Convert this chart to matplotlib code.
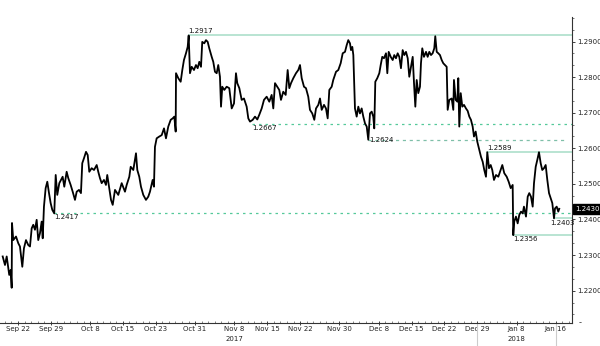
import numpy as np
import matplotlib
matplotlib.use("Agg")
import matplotlib.pyplot as plt
from matplotlib.ticker import FixedLocator, MultipleLocator, FormatStrFormatter
import matplotlib.transforms as mtransforms

# business-day offsets from 2017-09-22 (fractional = intraday)
t = [-2.33, -1.98, -1.72, -1.33, -1.11, -0.96, -0.91, -0.72, -0.30, 0.05,
     0.30, 0.66, 0.91, 1.22, 1.57, 1.83, 2.09, 2.33, 2.59, 2.85,
     3.09, 3.35, 3.61, 3.77, 3.96, 4.22, 4.47, 4.73, 4.98, 5.23,
     5.53, 5.75, 5.99, 6.30, 6.56, 6.81, 7.06, 7.42, 7.67, 8.03,
     8.34, 8.69, 8.95, 9.30, 9.60, 9.80, 10.06, 10.37, 10.63, 10.87,
     11.23, 11.59, 12.00, 12.24, 12.50, 12.76, 13.11, 13.41, 13.61, 13.92,
     14.18, 14.44, 14.79, 15.29, 15.81, 16.31, 16.57, 16.97, 17.18, 17.58,
     17.99, 18.19, 18.49, 18.75, 19.10, 19.51, 19.86, 20.12, 20.53, 20.73,
     20.88, 21.14, 21.54, 21.91, 22.26, 22.56, 22.91, 23.28, 23.58, 23.83,
     24.04, 24.09, 24.44, 24.80, 25.05, 25.30, 25.61, 25.87, 26.02, 26.22,
     26.48, 26.83, 27.13, 27.39, 27.64, 27.90, 28.09, 28.40, 28.66, 28.92,
     29.16, 29.53, 29.77, 30.03, 30.29, 30.53, 30.79, 30.95, 31.14, 31.45,
     31.81, 32.21, 32.58, 32.93, 33.23, 33.43, 33.74, 34.10, 34.45, 34.86,
     35.11, 35.37, 35.78, 36.13, 36.48, 36.78, 37.15, 37.50, 37.91, 38.31,
     38.67, 38.92, 39.18, 39.53, 39.83, 40.09, 40.44, 40.81, 41.11, 41.36,
     41.62, 41.97, 42.38, 42.73, 42.99, 43.25, 43.60, 43.90, 44.25, 44.51,
     44.86, 45.17, 45.43, 45.78, 46.04, 46.30, 46.65, 46.95, 47.21, 47.46,
     47.82, 48.06, 48.48, 48.83, 49.19, 49.50, 49.85, 50.11, 50.35, 50.61,
     50.76, 50.96, 51.12, 51.37, 51.63, 51.88, 52.13, 52.39, 52.64, 52.90,
     53.16, 53.40, 53.66, 53.92, 54.16, 54.31, 54.47, 54.77, 55.08, 55.29,
     55.53, 55.79, 56.10, 56.30, 56.51, 56.82, 57.12, 57.36, 57.62, 57.88,
     58.13, 58.38, 58.64, 58.89, 59.15, 59.41, 59.65, 59.91, 60.17, 60.37,
     60.57, 60.78, 61.02, 61.28, 61.43, 61.63, 61.89, 62.20, 62.45, 62.70,
     62.96, 63.21, 63.46, 63.61, 63.83, 64.07, 64.33, 64.59, 64.83, 65.09,
     65.35, 65.50, 65.75, 66.11, 66.36, 66.46, 66.72, 66.97, 67.12, 67.27,
     67.49, 67.73, 67.99, 68.29, 68.55, 68.80, 69.05, 69.31, 69.51, 69.77,
     70.01, 70.32, 70.58, 70.84, 71.08, 71.34, 71.54, 71.80, 72.06, 72.30,
     72.56, 72.87, 73.22, 73.48, 73.83, 74.13, 74.50, 74.80, 75.11, 75.41,
     75.50, 75.65, 75.91, 76.17, 76.42, 76.68, 76.94, 77.13, 77.44, 77.70,
     77.94, 78.20, 78.46, 78.66, 78.92, 79.16, 79.42, 79.68, 79.92, 80.18,
     80.44, 80.69, 80.95, 81.20, 81.45, 81.71, 81.86, 82.12, 82.36, 82.51]

price = [1.2296, 1.2272, 1.2296, 1.2244, 1.2258, 1.2208, 1.2390, 1.2342, 1.2352, 1.2333,
         1.2324, 1.2267, 1.2319, 1.2342, 1.2328, 1.2324, 1.2375, 1.2385, 1.2371, 1.2399,
         1.2342, 1.2361, 1.2394, 1.2347, 1.2436, 1.2488, 1.2506, 1.2474, 1.2446, 1.2427,
         1.2417, 1.2525, 1.2469, 1.2502, 1.2511, 1.2520, 1.2492, 1.2534, 1.2516, 1.2497,
         1.2478, 1.2455, 1.2478, 1.2483, 1.2474, 1.2558, 1.2572, 1.2590, 1.2581, 1.2534,
         1.2544, 1.2539, 1.2553, 1.2534, 1.2516, 1.2502, 1.2511, 1.2497, 1.2525, 1.2488,
         1.2455, 1.2441, 1.2483, 1.2469, 1.2502, 1.2478, 1.2497, 1.2520, 1.2548, 1.2539,
         1.2586, 1.2539, 1.2520, 1.2492, 1.2469, 1.2455, 1.2464, 1.2478, 1.2511, 1.2492,
         1.2604, 1.2628, 1.2633, 1.2637, 1.2656, 1.2628, 1.2661, 1.2680, 1.2684, 1.2689,
         1.2647, 1.2811, 1.2797, 1.2787, 1.2820, 1.2848, 1.2867, 1.2885, 1.2917, 1.2811,
         1.2829, 1.2820, 1.2834, 1.2825, 1.2843, 1.2829, 1.2899, 1.2895, 1.2904, 1.2899,
         1.2881, 1.2857, 1.2843, 1.2815, 1.2811, 1.2834, 1.2801, 1.2717, 1.2773, 1.2764,
         1.2773, 1.2769, 1.2712, 1.2726, 1.2811, 1.2783, 1.2769, 1.2736, 1.2740, 1.2717,
         1.2684, 1.2675, 1.2680, 1.2689, 1.2681, 1.2694, 1.2712, 1.2736, 1.2745, 1.2731,
         1.2750, 1.2712, 1.2783, 1.2773, 1.2764, 1.2736, 1.2759, 1.2750, 1.2820, 1.2769,
         1.2783, 1.2797, 1.2811, 1.2820, 1.2834, 1.2797, 1.2773, 1.2769, 1.2745, 1.2708,
         1.2698, 1.2680, 1.2712, 1.2722, 1.2740, 1.2708, 1.2722, 1.2712, 1.2684, 1.2764,
         1.2773, 1.2792, 1.2815, 1.2820, 1.2839, 1.2867, 1.2871, 1.2890, 1.2904, 1.2895,
         1.2876, 1.2885, 1.2862, 1.2712, 1.2689, 1.2717, 1.2698, 1.2712, 1.2689, 1.2670,
         1.2661, 1.2624, 1.2698, 1.2703, 1.2689, 1.2656, 1.2787, 1.2797, 1.2811, 1.2834,
         1.2857, 1.2853, 1.2867, 1.2811, 1.2871, 1.2857, 1.2848, 1.2862, 1.2853, 1.2867,
         1.2857, 1.2825, 1.2876, 1.2862, 1.2871, 1.2853, 1.2801, 1.2829, 1.2857, 1.2783,
         1.2717, 1.2792, 1.2755, 1.2773, 1.2839, 1.2881, 1.2857, 1.2871, 1.2857, 1.2871,
         1.2862, 1.2867, 1.2881, 1.2915, 1.2871, 1.2867, 1.2862, 1.2848, 1.2839, 1.2834,
         1.2829, 1.2708, 1.2736, 1.2740, 1.2708, 1.2792, 1.2736, 1.2731, 1.2797, 1.2661,
         1.2755, 1.2717, 1.2722, 1.2712, 1.2705, 1.2689, 1.2680, 1.2661, 1.2633, 1.2647,
         1.2619, 1.2595, 1.2576, 1.2562, 1.2539, 1.2520, 1.2589, 1.2544, 1.2553, 1.2539,
         1.2511, 1.2525, 1.2520, 1.2534, 1.2553, 1.2530, 1.2520, 1.2506, 1.2488, 1.2497,
         1.2356, 1.2394, 1.2408, 1.2389, 1.2413, 1.2422, 1.2417, 1.2436, 1.2408, 1.2464,
         1.2474, 1.2464, 1.2436, 1.2502, 1.2548, 1.2567, 1.2589, 1.2558, 1.2539, 1.2544,
         1.2553, 1.2511, 1.2474, 1.2460, 1.2446, 1.2403, 1.2431, 1.2436, 1.2422, 1.2430]

tick_dates = ['2017-09-22', '2017-09-29', '2017-10-08', '2017-10-15', '2017-10-23',
              '2017-10-31', '2017-11-08', '2017-11-15', '2017-11-22', '2017-11-30',
              '2017-12-08', '2017-12-15', '2017-12-22', '2017-12-29', '2018-01-08',
              '2018-01-16']
tick_labels = ['Sep 22', 'Sep 29', 'Oct 8', 'Oct 15', 'Oct 23', 'Oct 31', 'Nov 8',
               'Nov 15', 'Nov 22', 'Nov 30', 'Dec 8', 'Dec 15', 'Dec 22', 'Dec 29',
               'Jan 8', 'Jan 16']
year_dates = ['2017-11-08', '2018-01-08']
year_labels = ['2017', '2018']

# annotated levels: (level, start business-day offset, style)
levels = [1.2917, 1.2667, 1.2624, 1.2589, 1.2417, 1.2356, 1.2403]
level_start = [26.0, 35.7, 53.4, 71.5, 5.5, 75.5, 81.7]
level_style = ['solid', 'dotted', 'dashed', 'solid', 'dotted', 'solid', 'solid']
last_price = 1.2430

base = np.datetime64('2017-09-22')
def bday(d):
    return int(np.busday_count(base, np.datetime64(d)))

fig = plt.figure(figsize=(6.0, 3.46), dpi=100)
ax = fig.add_axes([0.0, 0.0665, 0.9533, 0.8844])

green_solid = '#a6dcc6'
green_dot = '#55c99a'

for lv, st, sty in zip(levels, level_start, level_style):
    if sty == 'solid':
        ax.plot([st, 84.45], [lv, lv], color=green_solid, lw=1.1, zorder=1)
    elif sty == 'dotted':
        ax.plot([st, 84.45], [lv, lv], color=green_dot, lw=0.9,
                linestyle=(0, (2, 3.2)), zorder=1)
    else:
        ax.plot([st, 83.5], [lv, lv], color='#7fbfa8', lw=0.9,
                linestyle=(0, (2.5, 3)), zorder=1)

ax.plot(t, price, color='black', lw=1.3, zorder=3)

fs = 5
lab_kw = dict(fontsize=fs, color='#111111', zorder=4)
ax.text(26.0, 1.2917 + 0.0003, '1.2917', ha='left', va='bottom', **lab_kw)
ax.text(35.7, 1.2667 - 0.0002, '1.2667', ha='left', va='top', **lab_kw)
ax.text(53.5, 1.2624, '1.2624', ha='left', va='center', **lab_kw)
ax.text(71.6, 1.2589 + 0.0003, '1.2589', ha='left', va='bottom', **lab_kw)
ax.text(5.6, 1.2417 - 0.0002, '1.2417', ha='left', va='top', **lab_kw)
ax.text(75.5, 1.2356 - 0.0003, '1.2356', ha='left', va='top', **lab_kw)
ax.text(81.2, 1.2403 - 0.0004, '1.2403', ha='left', va='top', zorder=7,
        fontsize=fs, color='#111111')

ax.set_xlim(-2.74, 84.45)
ax.set_ylim(1.2109, 1.2969)

for s in ['top', 'left']:
    ax.spines[s].set_visible(False)
ax.spines['right'].set_color('#333333')
ax.spines['bottom'].set_color('#333333')
ax.spines['right'].set_linewidth(0.8)
ax.spines['bottom'].set_linewidth(0.8)

ax.yaxis.tick_right()
ax.yaxis.set_major_locator(FixedLocator([1.22, 1.23, 1.24, 1.25, 1.26, 1.27, 1.28, 1.29]))
ax.yaxis.set_major_formatter(FormatStrFormatter('%.4f'))
ax.yaxis.set_minor_locator(MultipleLocator(0.0033333))
ax.tick_params(axis='y', which='major', direction='out', length=2, width=0.6,
               labelsize=fs, pad=1.5, colors='#222222')
ax.tick_params(axis='y', which='minor', direction='out', length=1.2, width=0.5,
               colors='#444444')

xt = [bday(d) for d in tick_dates]
ax.set_xticks(xt)
ax.set_xticklabels(tick_labels)
ax.set_xticks(np.arange(-2, 85), minor=True)
ax.tick_params(axis='x', which='major', direction='inout', length=2.5, width=0.6,
               labelsize=fs, pad=0.8, colors='#222222')
ax.tick_params(axis='x', which='minor', direction='in', length=1.2, width=0.5,
               colors='#555555')

trans = mtransforms.blended_transform_factory(ax.transData, ax.transAxes)
for d, yl in zip(year_dates, year_labels):
    ax.text(bday(d), -0.052, yl, transform=trans, ha='center', va='center',
            fontsize=fs, color='#222222')

# year separator / current markers below axis
for d in ['2017-12-29', '2018-01-16']:
    ax.plot([bday(d), bday(d)], [0.0, -0.08], transform=trans, color='#cccccc',
            lw=0.8, clip_on=False)

# last price box
ytrans = mtransforms.blended_transform_factory(ax.transAxes, ax.transData)
ax.text(1.005, last_price, '%.4f' % last_price, transform=ytrans, ha='left',
        va='center', fontsize=fs, color='white', zorder=6,
        bbox=dict(boxstyle='square,pad=0.25', facecolor='black', edgecolor='black'))

ax.text(1.012, 0.0, '-', transform=ax.transAxes, ha='left', va='center',
        fontsize=6, color='#333333')

fig.savefig('out.png', dpi=100)
